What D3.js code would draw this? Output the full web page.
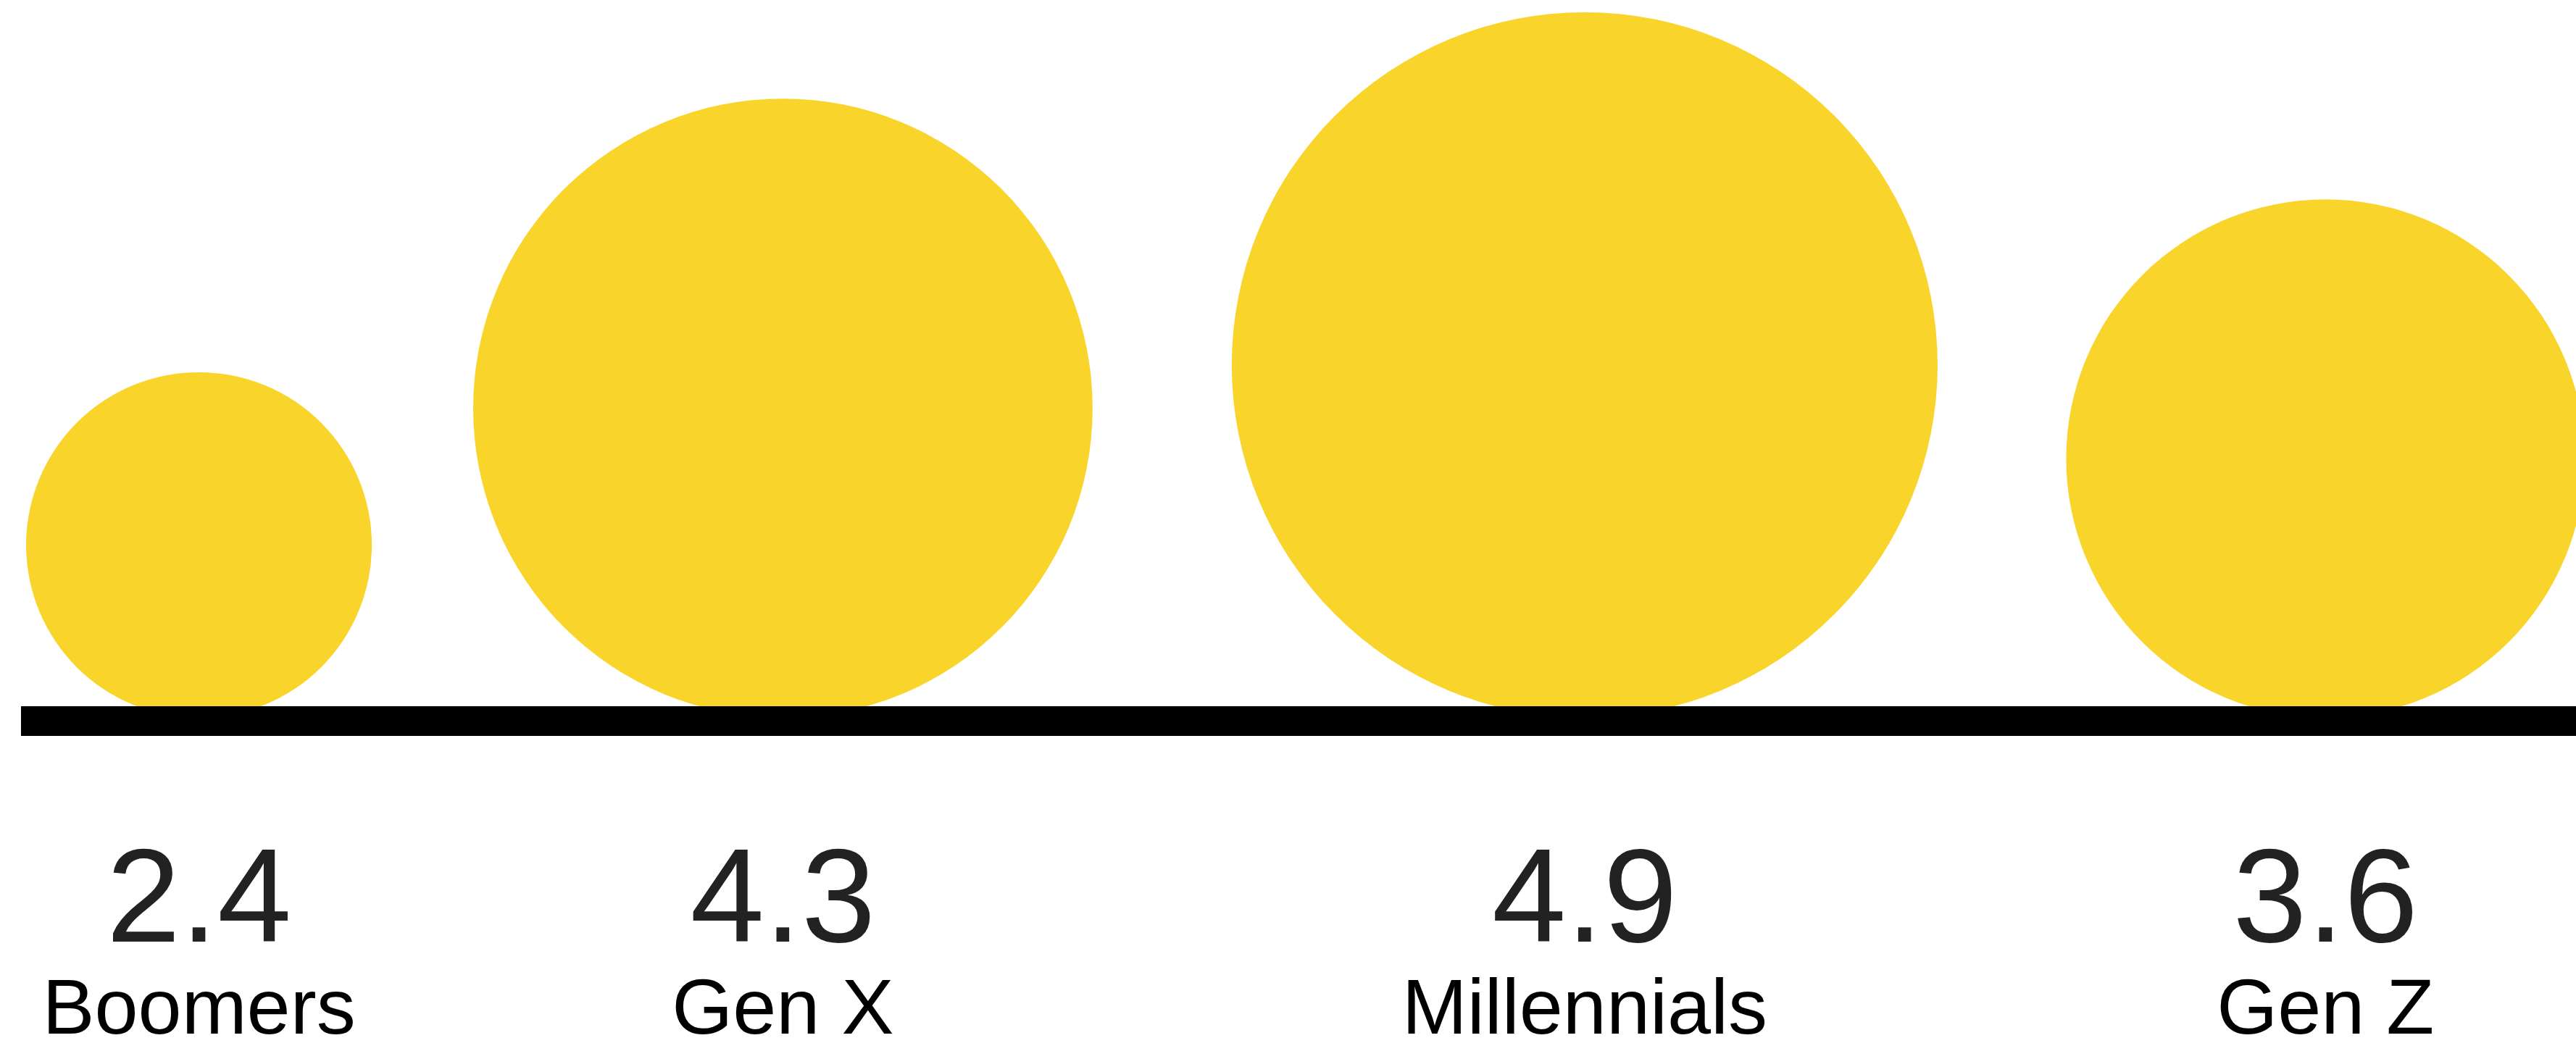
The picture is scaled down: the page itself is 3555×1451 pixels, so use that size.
<!DOCTYPE html>
<html>
<head>
<meta charset="utf-8">
<script src="https://cdn.jsdelivr.net/npm/d3@7"></script>
<style>
	html, body { margin: 0; padding: 0; background: #fff; overflow: hidden; }
	svg { display: block; }
</style>
</head>
<body>
<div id="chart"></div>
<script>
/*
 * Data
 */
var generations = ["Boomers", "Gen X", "Millennials", "Gen Z"];
var values = [2.4, 4.3, 4.9, 3.6];

var width = 3555,
	height = 1451;

var svg = d3.select('#chart').append('svg')
	.attr('width', width)
	.attr('height', height);

/*
 * Radius scale, circles sit on the base line
 */
var r = d3.scaleLinear()
	.domain([0, 5])
	.range([0, 497]);

var baseY = 991,
	startX = 36,
	spread = 1.21;

// centre distance grows with the two radii
var centers = [];
values.forEach(function(v, i) {
	if(i == 0) {
		centers.push(startX + r(v));
	} else {
		centers.push(centers[i-1] + spread * (r(values[i-1]) + r(v)));
	}
});

var data = generations.map(function(g, i) {
	return {name: g, value: values[i], cx: centers[i]};
});

svg.selectAll('circle.bubble')
	.data(data)
	.enter()
	.append('circle')
		.attr('class', 'bubble')
		.attr('cx', function(d) { return d.cx; })
		.attr('cy', function(d) { return baseY - r(d.value); })
		.attr('r', function(d) { return r(d.value); })
		.attr('fill', '#f9d52c');

// base line
svg.append('rect')
	.attr('x', 29)
	.attr('y', 975)
	.attr('width', width - 29)
	.attr('height', 41)
	.attr('fill', '#000');

var labels = svg.selectAll('g.label')
	.data(data)
	.enter()
	.append('g')
		.attr('class', 'label')
		.attr('transform', function(d) { return 'translate(' + d.cx + ',0)'; });

labels.append('text')
	.attr('y', 1300)
	.attr('text-anchor', 'middle')
	.attr('font-family', 'Liberation Sans, Arial, sans-serif')
	.attr('font-size', 184)
	.attr('fill', '#222')
	.text(function(d) { return d3.format('.1f')(d.value); });

labels.append('text')
	.attr('y', 1427)
	.attr('text-anchor', 'middle')
	.attr('font-family', 'Liberation Sans, Arial, sans-serif')
	.attr('font-size', 108)
	.attr('fill', '#000')
	.text(function(d) { return d.name; });
</script>
</body>
</html>
